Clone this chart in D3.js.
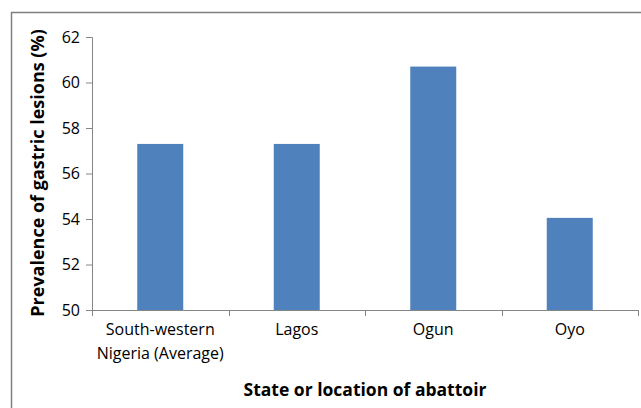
<!DOCTYPE html>
<html>
<head>
<meta charset="utf-8">
<script src="https://cdn.jsdelivr.net/npm/d3@7"></script>
<style>
  body { margin: 0; background: #fff; }
  svg { display: block; font-family: "Open Sans", "Noto Sans", sans-serif; }
</style>
</head>
<body>
<svg width="641" height="408"></svg>
<script>
// Chart data
const categories = ["South-western\nNigeria (Average)", "Lagos", "Ogun", "Oyo"];
const prevalence = [57.3, 57.3, 60.7, 54.05];
const yTicks = [50, 52, 54, 56, 58, 60, 62];

const FONT = '"Open Sans", "Noto Sans", sans-serif';
const svg = d3.select("svg");

// Outer frame (only top and left edges show in the crop)
svg.append("path")
    .attr("d", "M11.5,408 V12.5 H641")
    .attr("fill", "none")
    .attr("stroke", "#7f7f7f")
    .attr("stroke-width", 1.5);

const margin = { left: 92, right: 638, top: 37, bottom: 310 };

// x scale - one band per location
const xScale = d3.scaleBand()
    .domain(categories)
    .range([margin.left, margin.right])
    .paddingInner(0.663)
    .paddingOuter(0.3315);

// y scale - percentage axis starting at 50
const yScale = d3.scaleLinear()
    .domain([50, 62])
    .range([margin.bottom, margin.top]);

// Bars
svg.selectAll("rect.bar")
    .data(prevalence)
    .enter()
    .append("rect")
    .attr("class", "bar")
    .attr("x", (d, i) => xScale(categories[i]))
    .attr("y", d => yScale(d))
    .attr("width", xScale.bandwidth())
    .attr("height", d => yScale(50) - yScale(d))
    .attr("fill", "#4f81bd");

// Y axis
const yAxis = d3.axisLeft(yScale)
    .tickValues(yTicks)
    .tickSize(6)
    .tickPadding(6);

const gy = svg.append("g")
    .attr("transform", `translate(${margin.left}, 0)`)
    .call(yAxis)
    .attr("font-family", FONT)
    .attr("font-size", 16);
gy.select(".domain").attr("stroke", "#868686");
gy.selectAll(".tick line").attr("stroke", "#868686");
gy.selectAll("text")
    .style("fill", "#000");

// X axis - ticks sit on the band boundaries, so draw the line and ticks by hand
const step = xScale.step();
const boundaries = d3.range(categories.length + 1).map(i => margin.left + i * step);

const gx = svg.append("g");
gx.append("line")
    .attr("x1", margin.left - 6)
    .attr("x2", margin.right + 1)
    .attr("y1", margin.bottom + 0.5)
    .attr("y2", margin.bottom + 0.5)
    .attr("stroke", "#868686");
gx.selectAll("line.tick")
    .data(boundaries)
    .enter()
    .append("line")
    .attr("class", "tick")
    .attr("x1", d => Math.round(d) + 0.5)
    .attr("x2", d => Math.round(d) + 0.5)
    .attr("y1", margin.bottom)
    .attr("y2", margin.bottom + 6)
    .attr("stroke", "#868686");

// Category labels (may wrap to two lines)
gx.selectAll("text.cat")
    .data(categories)
    .enter()
    .append("text")
    .attr("class", "cat")
    .attr("text-anchor", "middle")
    .style("font-size", "16px")
    .each(function(d) {
        const lines = d.split("\n");
        const t = d3.select(this);
        lines.forEach((line, j) => {
            t.append("tspan")
                .attr("x", xScale(d) + xScale.bandwidth() / 2)
                .attr("y", 335 + j * 24)
                .text(line);
        });
    });

// Axis titles
svg.append("text")
    .attr("x", 365)
    .attr("y", 396)
    .attr("text-anchor", "middle")
    .style("font-size", "17.5px")
    .style("font-weight", "bold")
    .text("State or location of abattoir");

svg.append("text")
    .attr("transform", "translate(44, 173) rotate(-90)")
    .attr("text-anchor", "middle")
    .style("font-size", "18px")
    .style("font-weight", "bold")
    .text("Prevalence of gastric lesions (%)");
</script>
</body>
</html>
